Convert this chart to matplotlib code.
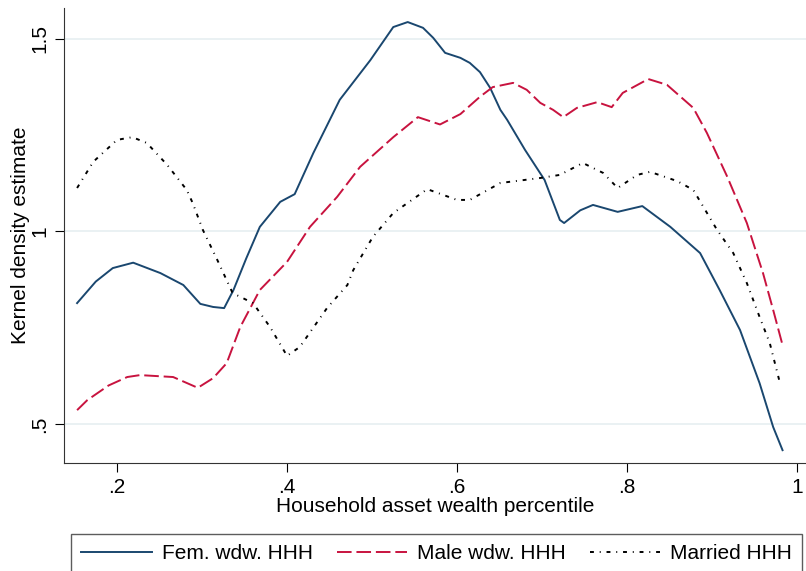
import numpy as np
import matplotlib.pyplot as plt

plt.rcParams['font.family'] = ['Liberation Sans', 'DejaVu Sans']

# Fem. wdw. HHH
x_fem = [0.153, 0.175, 0.195, 0.219, 0.251, 0.278, 0.298, 0.313, 0.326, 0.337, 0.352,
         0.368, 0.392, 0.409, 0.431, 0.462, 0.498, 0.525, 0.542, 0.56, 0.572, 0.586,
         0.604, 0.615, 0.627, 0.639, 0.651, 0.659, 0.68, 0.703, 0.721, 0.726, 0.745,
         0.76, 0.789, 0.818, 0.851, 0.886, 0.909, 0.933, 0.956, 0.972, 0.983]
y_fem = [0.814, 0.87, 0.905, 0.919, 0.892, 0.861, 0.812, 0.804, 0.801, 0.848, 0.93,
         1.012, 1.077, 1.097, 1.204, 1.342, 1.445, 1.531, 1.544, 1.529, 1.503, 1.464,
         1.451, 1.438, 1.414, 1.373, 1.316, 1.29, 1.212, 1.134, 1.03, 1.022, 1.055,
         1.069, 1.051, 1.066, 1.012, 0.944, 0.848, 0.744, 0.606, 0.492, 0.432]

# Male wdw. HHH
x_male = [0.153, 0.165, 0.19, 0.212, 0.227, 0.266, 0.295, 0.313, 0.329, 0.345, 0.368,
          0.4, 0.427, 0.459, 0.486, 0.525, 0.554, 0.58, 0.604, 0.627, 0.642, 0.666,
          0.682, 0.698, 0.713, 0.725, 0.741, 0.765, 0.782, 0.795, 0.825, 0.847, 0.878,
          0.894, 0.918, 0.941, 0.96, 0.972, 0.983]
y_male = [0.536, 0.562, 0.6, 0.622, 0.627, 0.622, 0.594, 0.619, 0.658, 0.752, 0.848,
          0.921, 1.012, 1.09, 1.168, 1.245, 1.297, 1.278, 1.305, 1.35, 1.375, 1.386,
          1.368, 1.334, 1.316, 1.297, 1.321, 1.336, 1.323, 1.36, 1.396, 1.381, 1.321,
          1.256, 1.142, 1.022, 0.892, 0.796, 0.705]

# Married HHH
x_mar = [0.153, 0.172, 0.2, 0.218, 0.235, 0.259, 0.282, 0.289, 0.301, 0.318, 0.336,
         0.36, 0.38, 0.4, 0.415, 0.447, 0.471, 0.478, 0.501, 0.525, 0.565, 0.6, 0.615,
         0.651, 0.698, 0.721, 0.748, 0.772, 0.789, 0.812, 0.827, 0.859, 0.878, 0.906,
         0.925, 0.941, 0.956, 0.968, 0.98]
y_mar = [1.113, 1.181, 1.238, 1.245, 1.23, 1.173, 1.108, 1.074, 1.004, 0.926, 0.84,
         0.814, 0.752, 0.677, 0.7, 0.801, 0.861, 0.9, 0.986, 1.048, 1.11, 1.082, 1.082,
         1.126, 1.139, 1.147, 1.178, 1.152, 1.113, 1.147, 1.155, 1.131, 1.108, 1.004,
         0.944, 0.866, 0.778, 0.71, 0.606]

xticks = [0.2, 0.4, 0.6, 0.8, 1.0]
xticklabels = ['.2', '.4', '.6', '.8', '1']
yticks = [0.5, 1.0, 1.5]
yticklabels = ['.5', '1', '1.5']

fig = plt.figure(figsize=(8.06, 5.71), dpi=100)
ax = fig.add_axes([64/806, 108/571, 742/806, 455/571])

ax.plot(x_fem, y_fem, color='#1a476f', lw=1.4, label='Fem. wdw. HHH')
ax.plot(x_male, y_male, color='#c8133f', lw=1.4, linestyle=(0, (7.5, 2.5)), label='Male wdw. HHH')
ax.plot(x_mar, y_mar, color='black', lw=1.4, linestyle=(0, (2, 3, 0.5, 3)), label='Married HHH')

ax.set_xlim(0.1376, 1.0106)
ax.set_ylim(0.3987, 1.5805)
for y in yticks:
    ax.axhline(y, color='#e8f0f2', lw=1.3, zorder=0)

ax.set_xticks(xticks)
ax.set_xticklabels(xticklabels)
ax.set_yticks(yticks)
ax.set_yticklabels(yticklabels, rotation=90, va='center')
ax.tick_params(direction='out', length=6.5, width=0.8, labelsize=15, colors='black', pad=4)
ax.spines['top'].set_visible(False)
ax.spines['right'].set_visible(False)
ax.spines['left'].set_color('#333333')
ax.spines['bottom'].set_color('#333333')
ax.set_xlabel('Household asset wealth percentile', fontsize=15, labelpad=0)
ax.set_ylabel('Kernel density estimate', fontsize=15, labelpad=0)

leg = fig.legend(loc='upper left', bbox_to_anchor=(71/806, 37/571), ncol=3,
                 fontsize=15, frameon=True, fancybox=False, edgecolor='#333333',
                 handlelength=3.4, handletextpad=0.45, columnspacing=1.15,
                 borderaxespad=0, borderpad=0.5)
leg.get_frame().set_linewidth(1.0)

fig.savefig('out.png', dpi=100)
